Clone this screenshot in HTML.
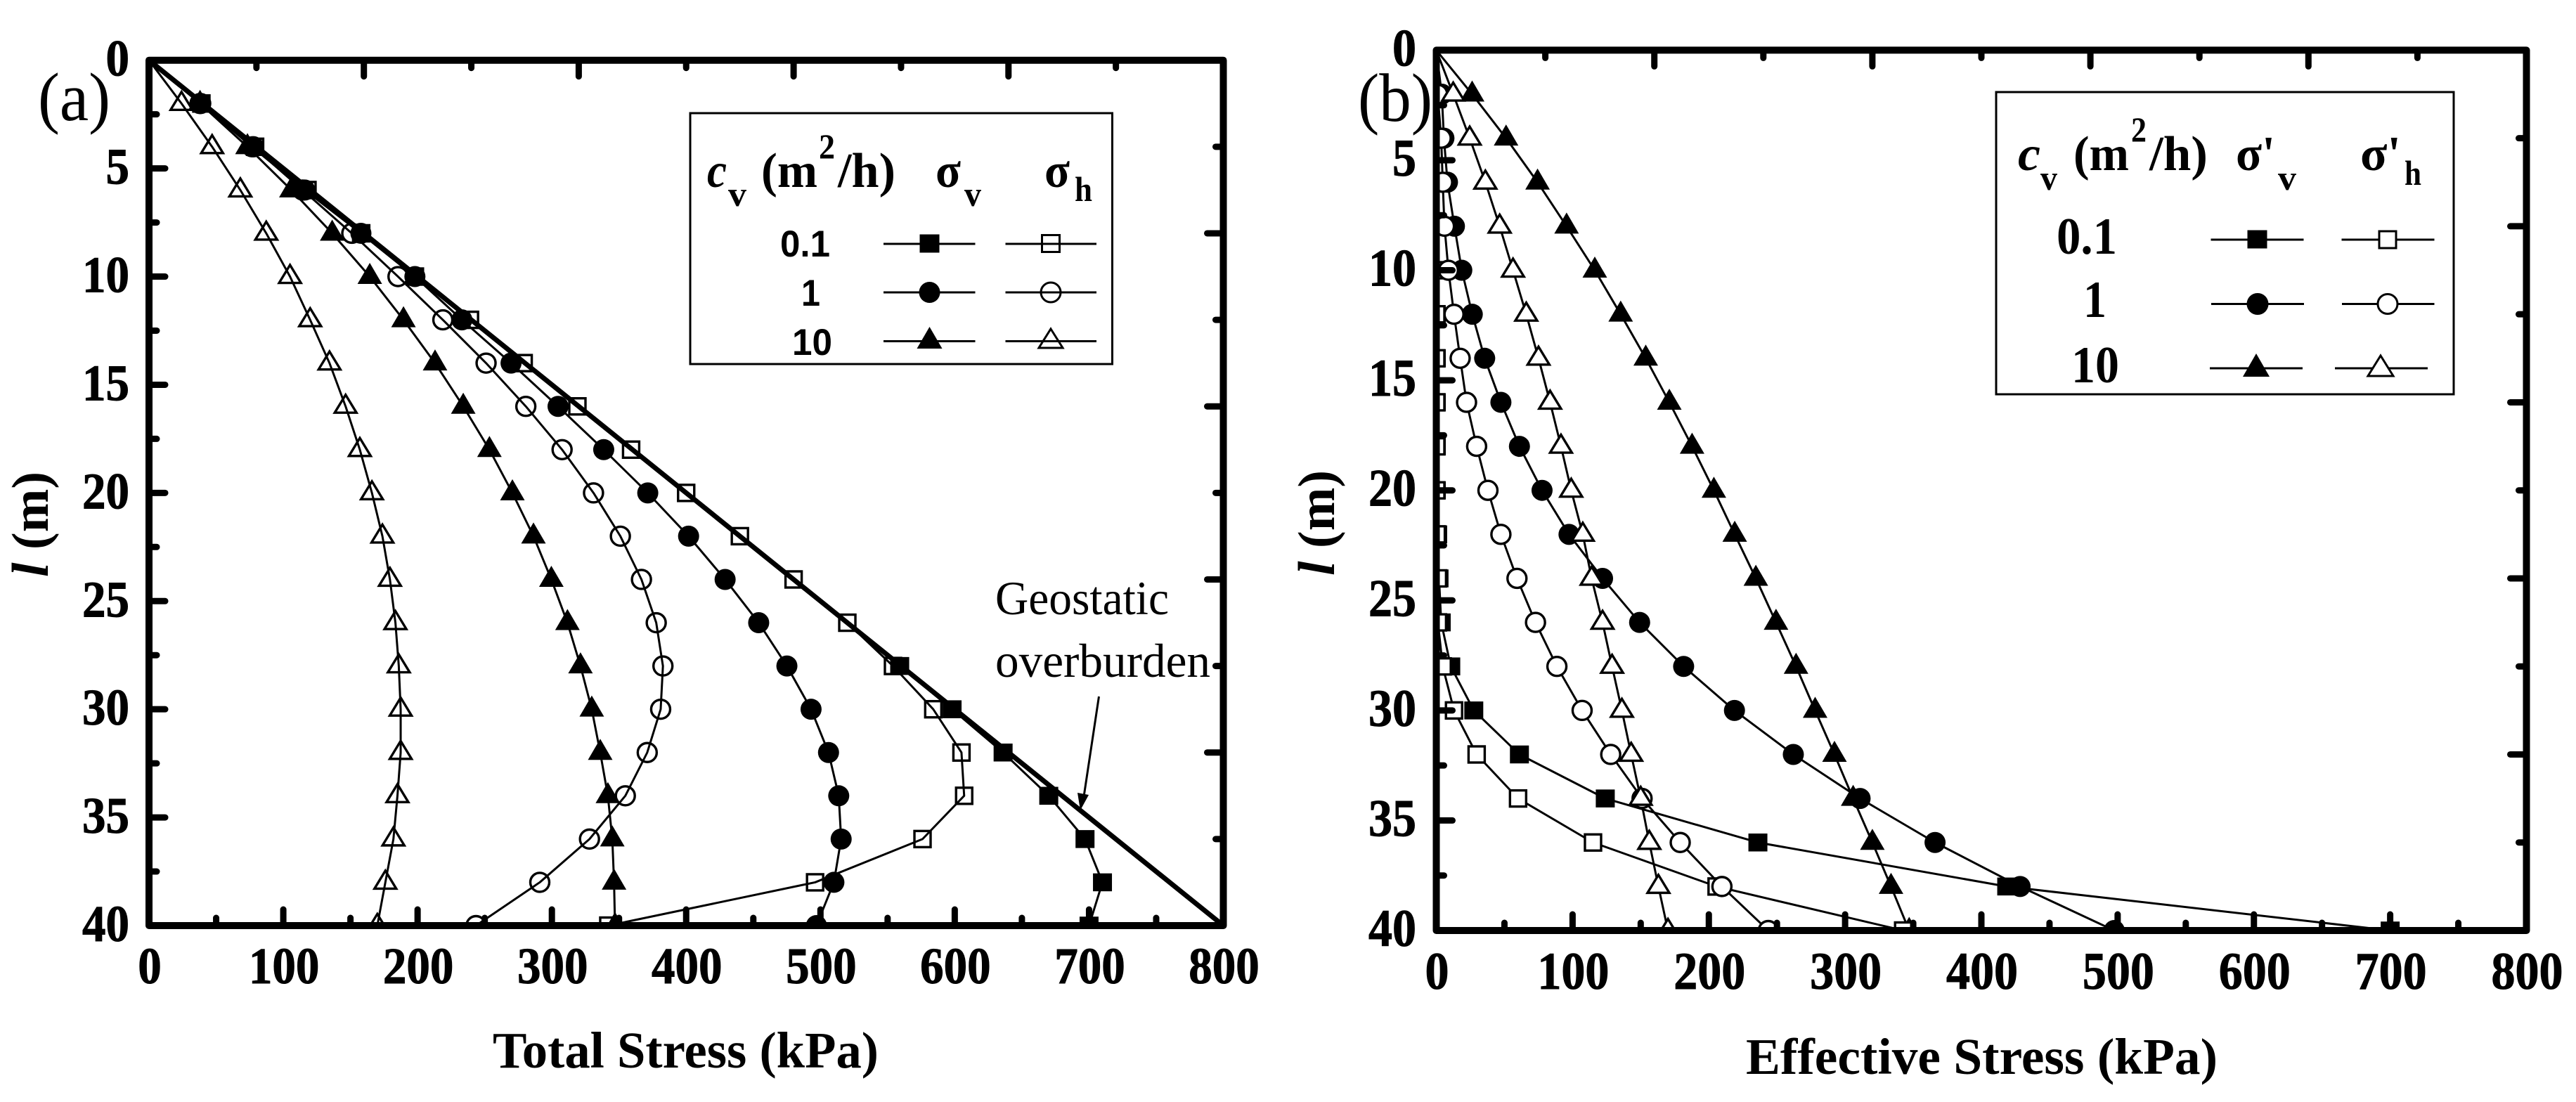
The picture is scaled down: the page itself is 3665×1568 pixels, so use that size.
<!DOCTYPE html>
<html lang="en">
<head>
<meta charset="utf-8">
<title>Total and effective stress profiles</title>
<style>
html,body{margin:0;padding:0;background:#fff;}
svg{display:block;}
text{font-family:"Liberation Serif",serif;fill:#000;}
.b{font-weight:bold;}
.i{font-style:italic;font-weight:bold;}
.s{font-family:"Liberation Sans",sans-serif;font-weight:bold;}
.lg{stroke:#000;stroke-width:3;fill:none;}
</style>
</head>
<body>
<svg id="figure" xmlns="http://www.w3.org/2000/svg" width="3665" height="1568" viewBox="0 0 3665 1568">
<rect x="0" y="0" width="3665" height="1568" fill="#fff"/>
<g id="chart-a"></g>
<g id="chart-b"></g>

<text x="54" y="171" font-size="98" textLength="103" lengthAdjust="spacingAndGlyphs">(a)</text>
<text x="1932" y="172" font-size="98" textLength="106" lengthAdjust="spacingAndGlyphs">(b)</text>

<text class="b" x="701" y="1519" font-size="73" textLength="549" lengthAdjust="spacingAndGlyphs">Total Stress (kPa)</text>
<text class="b" x="2484" y="1528" font-size="73" textLength="671" lengthAdjust="spacingAndGlyphs">Effective Stress (kPa)</text>
<text class="b" transform="translate(68 821) rotate(-90)" font-size="74"><tspan class="i">l</tspan> (m)</text>
<text class="b" transform="translate(1898 819) rotate(-90)" font-size="74"><tspan class="i">l</tspan> (m)</text>

<g>
<text x="1416" y="874" font-size="68" textLength="247" lengthAdjust="spacingAndGlyphs">Geostatic</text>
<text x="1416" y="963" font-size="68" textLength="306" lengthAdjust="spacingAndGlyphs">overburden</text>
<line x1="1563.5" y1="991" x2="1541" y2="1140" stroke="#000" stroke-width="3"/>
<polygon points="1533,1128 1549,1131 1537,1153" fill="#000"/>
</g>

<g>
<rect x="982" y="161" width="600.5" height="357" fill="none" stroke="#000" stroke-width="3"/>
<text class="i" x="1006" y="266" font-size="70" textLength="28" lengthAdjust="spacingAndGlyphs">c</text>
<text class="b" x="1036" y="293" font-size="50" textLength="26" lengthAdjust="spacingAndGlyphs">v</text>
<text class="b" x="1083" y="266" font-size="70" textLength="80" lengthAdjust="spacingAndGlyphs">(m</text>
<text class="b" x="1165" y="225" font-size="50" textLength="23" lengthAdjust="spacingAndGlyphs">2</text>
<text class="b" x="1192" y="266" font-size="70" textLength="82" lengthAdjust="spacingAndGlyphs">/h)</text>
<text class="b" x="1331" y="266" font-size="70" textLength="36" lengthAdjust="spacingAndGlyphs">σ</text>
<text class="b" x="1372" y="293" font-size="50" textLength="24" lengthAdjust="spacingAndGlyphs">v</text>
<text class="b" x="1486" y="266" font-size="70" textLength="36" lengthAdjust="spacingAndGlyphs">σ</text>
<text class="b" x="1529" y="286" font-size="50" textLength="25" lengthAdjust="spacingAndGlyphs">h</text>
<text class="s" x="1110" y="365" font-size="53" textLength="71" lengthAdjust="spacingAndGlyphs">0.1</text>
<text class="s" x="1140" y="435" font-size="53" textLength="27" lengthAdjust="spacingAndGlyphs">1</text>
<text class="s" x="1127" y="505" font-size="53" textLength="57" lengthAdjust="spacingAndGlyphs">10</text>
<g><line class="lg" x1="1257" x2="1387.5" y1="347" y2="347"/><rect x="1308.5" y="333.5" width="28" height="26" fill="#000"/></g>
<g><line class="lg" x1="1430.5" x2="1560" y1="347" y2="347"/><rect class="lg" x="1482.5" y="334.5" width="25" height="24"/></g>
<g><line class="lg" x1="1257" x2="1387.5" y1="416" y2="416"/><circle cx="1322.5" cy="416" r="15" fill="#000"/></g>
<g><line class="lg" x1="1430.5" x2="1560" y1="416" y2="416"/><circle class="lg" cx="1495" cy="416" r="14"/></g>
<g><line class="lg" x1="1257" x2="1387.5" y1="485.5" y2="485.5"/><polygon points="1322.5,465 1340.5,496 1304.5,496" fill="#000"/></g>
<g><line class="lg" x1="1430.5" x2="1560" y1="485.5" y2="485.5"/><polygon class="lg" points="1495,468 1512,495 1478,495"/></g>
</g>

<g>
<rect x="2840" y="131" width="651" height="430" fill="none" stroke="#000" stroke-width="3"/>
<text class="i" x="2871" y="242" font-size="70" textLength="32" lengthAdjust="spacingAndGlyphs">c</text>
<text class="b" x="2903" y="270" font-size="50" textLength="24" lengthAdjust="spacingAndGlyphs">v</text>
<text class="b" x="2950" y="242" font-size="70" textLength="79" lengthAdjust="spacingAndGlyphs">(m</text>
<text class="b" x="3032" y="201" font-size="50" textLength="22" lengthAdjust="spacingAndGlyphs">2</text>
<text class="b" x="3058" y="242" font-size="70" textLength="83" lengthAdjust="spacingAndGlyphs">/h)</text>
<text class="b" x="3181" y="242" font-size="70" textLength="56" lengthAdjust="spacingAndGlyphs">σ'</text>
<text class="b" x="3241" y="270" font-size="50" textLength="26" lengthAdjust="spacingAndGlyphs">v</text>
<text class="b" x="3358" y="242" font-size="70" textLength="58" lengthAdjust="spacingAndGlyphs">σ'</text>
<text class="b" x="3421" y="263" font-size="50" textLength="24" lengthAdjust="spacingAndGlyphs">h</text>
<text class="b" x="2926" y="361" font-size="74" textLength="86" lengthAdjust="spacingAndGlyphs">0.1</text>
<text class="b" x="2964" y="451" font-size="74" textLength="33" lengthAdjust="spacingAndGlyphs">1</text>
<text class="b" x="2947" y="544" font-size="74" textLength="68" lengthAdjust="spacingAndGlyphs">10</text>
<g><line class="lg" x1="3145.5" x2="3277.5" y1="341" y2="341"/><rect x="3197.5" y="327.5" width="28" height="26" fill="#000"/></g>
<g><line class="lg" x1="3331.5" x2="3463.5" y1="341" y2="341"/><rect class="lg" x="3385" y="329" width="24" height="24" fill="#fff" style="fill:#fff"/></g>
<g><line class="lg" x1="3146" x2="3278" y1="432.5" y2="432.5"/><circle cx="3212" cy="432.5" r="15.5" fill="#000"/></g>
<g><line class="lg" x1="3332" x2="3463.5" y1="432.5" y2="432.5"/><circle class="lg" cx="3397" cy="432.5" r="14" style="fill:#fff"/></g>
<g><line class="lg" x1="3144" x2="3276" y1="524" y2="524"/><polygon points="3210,503 3229,536 3191,536" fill="#000"/></g>
<g><line class="lg" x1="3322" x2="3454" y1="524" y2="524"/><polygon class="lg" points="3387,506 3405,535 3369,535" style="fill:#fff"/></g>
</g>
</svg>

<script>
// ---- shared categories and tick labels ----
var depths = [0,2,4,6,8,10,12,14,16,18,20,22,24,26,28,30,32,34,36,38,40];
var xTickLabels = [0,100,200,300,400,500,600,700,800];
var xMinorTicks = [50,150,250,350,450,550,650,750];
var yTickLabels = [0,5,10,15,20,25,30,35,40];
var yMinorTicks = [2.5,7.5,12.5,17.5,22.5,27.5,32.5,37.5];
var topMajorTicks = [160,320,480,640];
var topMinorTicks = [80,240,400,560,720];
var rightMajorTicks = [8,16,24,32];
var rightMinorTicks = [4,12,20,28,36];

// ---- panel (a): total stress, kPa (null = no visible point at that depth) ----
var geostaticStress = [0,800];
var geostaticDepth = [0,40];
var aSigmaV01 = [null,null,null,null,null,null,null,null,null,null,null,null,null,null,559,598,636,670,697,710,700];
var aSigmaH01 = [0,39,79,118,158,198,239,279,319,359,400,440,480,520,554,584,605,607,576,496,342];
var aSigmaV1  = [0,38.6,76.6,116,157.8,198,233,269.6,304.6,338.6,371.4,401.8,429,454,475,493,506,513.6,515.4,510,497];
var aSigmaH1  = [0,38,77.6,114.4,151,185.4,218.8,251,280.6,307.6,331,351,366.7,377.7,382.7,381,371,354.7,328,291,243.5];
var aSigmaV10 = [0,38,73.3,106,136.4,164.4,189.5,213,234,253.5,270.6,286.3,299.6,311.6,321.3,329.7,336,341.7,345,346.3,347];
var aSigmaH10 = [0,24.2,47,68,87.3,105,120,134.4,146.4,157,166,173.8,179.4,183.5,186,187.4,187.4,185,182,176,170];

// ---- panel (b): effective stress, kPa ----
var bSigmaV01 = [0,0,0,0,0,0,0,0,0,0,0,1,2,3.6,10.6,27.5,61,124,236,418.6,700];
var bSigmaH01 = [0,0,0,0,0,0,0,0,0,0,0,0.3,1.2,1.2,4.7,13,29.6,60,115,205.7,342.6];
var bSigmaV1  = [0,4,5.6,8.2,13.3,18.7,26.4,35.5,47.4,61,77.6,97.4,122,149.2,181.5,218.8,262,311,366,428.4,497.5];
var bSigmaH1  = [0,1,3.6,4.7,6,8.9,13,17.5,22.2,29.6,37.9,47.4,59.2,72.8,88.5,107,128,151,179,209.6,243.6];
var bSigmaV10 = [0,26.3,51.2,74.3,95.6,116.3,135.3,153.7,171,187.7,203.7,219,234.5,249.3,264,278,292.2,305.9,320,333.7,347];
var bSigmaH10 = [0,12.4,24.5,36,46.5,56.3,66,75,83.5,91.5,99,107.5,114,122,129,136.2,143,150,156.3,163,170];

var NS = 'http://www.w3.org/2000/svg';
function mk(parent, tag, attrs) {
  var el = document.createElementNS(NS, tag);
  for (var k in attrs) el.setAttribute(k, attrs[k]);
  parent.appendChild(el);
  return el;
}

function drawPanel(root, id, box, seriesList, showGeostatic) {
  var xAxis = function (v) { return box.left + (box.right - box.left) * v / 800; };
  var yAxis = function (l) { return box.top + (box.bottom - box.top) * l / 40; };

  var defs = mk(root, 'defs', {});
  var clip = mk(defs, 'clipPath', { id: 'clip-' + id });
  mk(clip, 'rect', { x: box.left, y: box.top, width: box.right - box.left, height: box.bottom - box.top });
  var plot = mk(root, 'g', { 'clip-path': 'url(#clip-' + id + ')' });
  
  

  seriesList.forEach(function (s) {
    var pts = [];
    s.values.forEach(function (v, i) {
      if (v !== null) pts.push(xAxis(v) + ',' + yAxis(depths[i]));
    });
    var line = mk(plot, 'polyline', { points: pts.join(' '), fill: 'none', stroke: '#000', 'stroke-width': 3, 'stroke-linejoin': 'round' });
    
    
  });

  if (showGeostatic) {
    var geo = mk(plot, 'line', {
      x1: xAxis(geostaticStress[0]), y1: yAxis(geostaticDepth[0]),
      x2: xAxis(geostaticStress[1]), y2: yAxis(geostaticDepth[1]),
      stroke: '#000', 'stroke-width': 7
    });
    
    
  }

  seriesList.forEach(function (s) {
    var fill = s.filled ? '#000' : (box.whiteOpen ? '#fff' : 'none');
    var sw = s.filled ? 0 : 3.4;
    s.values.forEach(function (v, i) {
      if (v === null || depths[i] === 0) return;
      var cx = xAxis(v), cy = yAxis(depths[i]), m;
      if (s.shape === 'square') {
        var w = s.filled ? 27 : 23, h = s.filled ? 25.5 : 23;
        m = mk(plot, 'rect', { x: cx - w / 2, y: cy - h / 2, width: w, height: h });
      } else if (s.shape === 'circle') {
        var rx = s.filled ? 15 : 13.5, ry = s.filled ? 15 : 13.5;
        m = mk(plot, 'ellipse', { cx: cx, cy: cy, rx: rx, ry: ry });
      } else {
        var pts = s.filled
          ? [cx, cy - 19.5, cx + 17.5, cy + 10.5, cx - 17.5, cy + 10.5]
          : [cx, cy - 16.5, cx + 15.5, cy + 9, cx - 15.5, cy + 9];
        m = mk(plot, 'polygon', { points: pts.join(' ') });
      }
      m.setAttribute('fill', fill);
      m.setAttribute('stroke', s.filled ? 'none' : '#000');
      m.setAttribute('stroke-width', sw);
      
      
    });
  });

  var frame = mk(root, 'rect', {
    x: box.left, y: box.top, width: box.right - box.left, height: box.bottom - box.top,
    fill: 'none', stroke: '#000', 'stroke-width': 10, 'stroke-linejoin': 'round'
  });
  
  

  function tick(x1, y1, x2, y2, name) {
    var t = mk(root, 'line', { x1: x1, y1: y1, x2: x2, y2: y2, stroke: '#000', 'stroke-width': 9, 'stroke-linecap': 'round' });
    
    
  }
  var maj = 23, min = 11;
  xTickLabels.slice(1, -1).forEach(function (v) { tick(xAxis(v), box.bottom, xAxis(v), box.bottom - maj, 'x-major-tick'); });
  xMinorTicks.forEach(function (v) { tick(xAxis(v), box.bottom, xAxis(v), box.bottom - min, 'x-minor-tick'); });
  topMajorTicks.forEach(function (v) { tick(xAxis(v), box.top, xAxis(v), box.top + maj, 'top-major-tick'); });
  topMinorTicks.forEach(function (v) { tick(xAxis(v), box.top, xAxis(v), box.top + min, 'top-minor-tick'); });
  yTickLabels.slice(1, -1).forEach(function (l) { tick(box.left, yAxis(l), box.left + maj, yAxis(l), 'y-major-tick'); });
  yMinorTicks.forEach(function (l) { tick(box.left, yAxis(l), box.left + min, yAxis(l), 'y-minor-tick'); });
  rightMajorTicks.forEach(function (l) { tick(box.right, yAxis(l), box.right - maj, yAxis(l), 'right-major-tick'); });
  rightMinorTicks.forEach(function (l) { tick(box.right, yAxis(l), box.right - min, yAxis(l), 'right-minor-tick'); });

  xTickLabels.forEach(function (v) {
    var s = String(v);
    var t = mk(root, 'text', {
      x: xAxis(v) + 1, y: box.xLabelY, 'text-anchor': 'middle', 'font-size': box.fs, 'font-weight': 'bold',
      stroke: '#000', 'stroke-width': 1,
      textLength: s.length * box.cw, lengthAdjust: 'spacingAndGlyphs'
    });
    t.textContent = s;
    
    
  });
  yTickLabels.forEach(function (l) {
    var s = String(l);
    var t = mk(root, 'text', {
      x: box.yLabelX, y: yAxis(l) + 22, 'text-anchor': 'end', 'font-size': box.fs, 'font-weight': 'bold',
      stroke: '#000', 'stroke-width': 1,
      textLength: s.length * box.cw, lengthAdjust: 'spacingAndGlyphs'
    });
    t.textContent = s;
    
    
  });
}

drawPanel(document.getElementById('chart-a'), 'a',
  { left: 212, right: 1740.5, top: 85.7, bottom: 1317, xLabelY: 1399, yLabelX: 184, fs: 73, cw: 33.5, whiteOpen: false },
  [
    { name: 'sigma-h-cv-0-1', values: aSigmaH01, shape: 'square', filled: false },
    { name: 'sigma-h-cv-1', values: aSigmaH1, shape: 'circle', filled: false },
    { name: 'sigma-h-cv-10', values: aSigmaH10, shape: 'triangle', filled: false },
    { name: 'sigma-v-cv-0-1', values: aSigmaV01, shape: 'square', filled: true },
    { name: 'sigma-v-cv-1', values: aSigmaV1, shape: 'circle', filled: true },
    { name: 'sigma-v-cv-10', values: aSigmaV10, shape: 'triangle', filled: true }
  ], true);

drawPanel(document.getElementById('chart-b'), 'b',
  { left: 2043.5, right: 3594.5, top: 71.4, bottom: 1324, xLabelY: 1407, yLabelX: 2015, fs: 75, cw: 34, whiteOpen: true },
  [
    { name: 'eff-sigma-v-cv-0-1', values: bSigmaV01, shape: 'square', filled: true },
    { name: 'eff-sigma-v-cv-1', values: bSigmaV1, shape: 'circle', filled: true },
    { name: 'eff-sigma-v-cv-10', values: bSigmaV10, shape: 'triangle', filled: true },
    { name: 'eff-sigma-h-cv-0-1', values: bSigmaH01, shape: 'square', filled: false },
    { name: 'eff-sigma-h-cv-1', values: bSigmaH1, shape: 'circle', filled: false },
    { name: 'eff-sigma-h-cv-10', values: bSigmaH10, shape: 'triangle', filled: false }
  ], false);
</script>
</body>
</html>
